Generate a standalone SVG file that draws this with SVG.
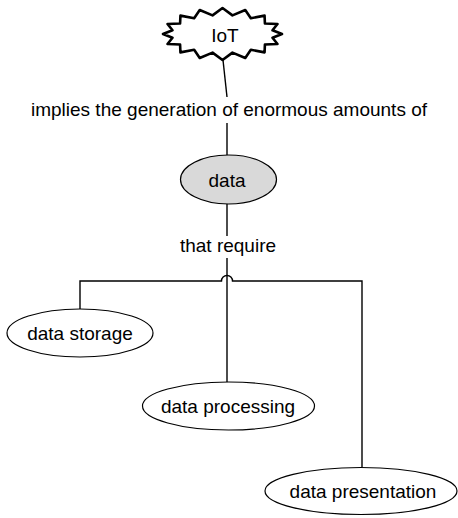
<svg xmlns="http://www.w3.org/2000/svg" width="458" height="518" viewBox="0 0 458 518">
<style>
text{font-family:"Liberation Sans",Arial,sans-serif;font-size:19px;fill:#000;text-anchor:middle}
.node{fill:#fff;stroke:#000;stroke-width:1.2}
.conn{fill:none;stroke:#000;stroke-width:1.4}
</style>
<rect width="458" height="518" fill="#fff"/>
<g id="connectors">
<path class="conn" d="M223,60 L227,97"/>
<path class="conn" d="M227,123 L227,155"/>
<path class="conn" d="M227,204 L227,236"/>
<path class="conn" d="M227,258 L227,382"/>
<path class="conn" d="M80,309 L80,281 L221.5,281 A5.5,5.5 0 0 1 232.5,281 L362,281 L362,467"/>
</g>
<g id="iot">
<polygon fill="#fff" stroke="#000" stroke-width="2.6" stroke-linejoin="round" points="282,34 272.52,30.29 277.47,24.05 264.91,23.44 264.57,15.62 250.84,18.2 245.27,9.98 232.45,15.36 222.5,8 212.55,15.36 199.73,9.98 194.16,18.2 180.43,15.62 180.09,23.44 167.53,24.05 172.48,30.29 163,34 172.48,37.71 167.53,43.95 180.09,44.56 180.43,52.38 194.16,49.8 199.73,58.02 212.55,52.64 222.5,60 232.45,52.64 245.27,58.02 250.84,49.8 264.57,52.38 264.91,44.56 277.47,43.95 272.52,37.71"/>
<text x="225" y="42">IoT</text>
</g>
<g id="label-implies">
<text x="229" y="116">implies the generation of enormous amounts of</text>
</g>
<g id="data">
<ellipse class="node" cx="228.5" cy="179.5" rx="48" ry="24.5" style="fill:#d9d9d9"/>
<text x="227" y="187">data</text>
</g>
<g id="label-require">
<text x="228" y="252">that require</text>
</g>
<g id="storage">
<ellipse class="node" cx="80" cy="333" rx="73" ry="24"/>
<text x="80" y="340">data storage</text>
</g>
<g id="processing">
<ellipse class="node" cx="228.5" cy="406" rx="86" ry="24"/>
<text x="228" y="413">data processing</text>
</g>
<g id="presentation">
<ellipse class="node" cx="361" cy="491" rx="96" ry="23.5"/>
<text x="363" y="498">data presentation</text>
</g>
</svg>
